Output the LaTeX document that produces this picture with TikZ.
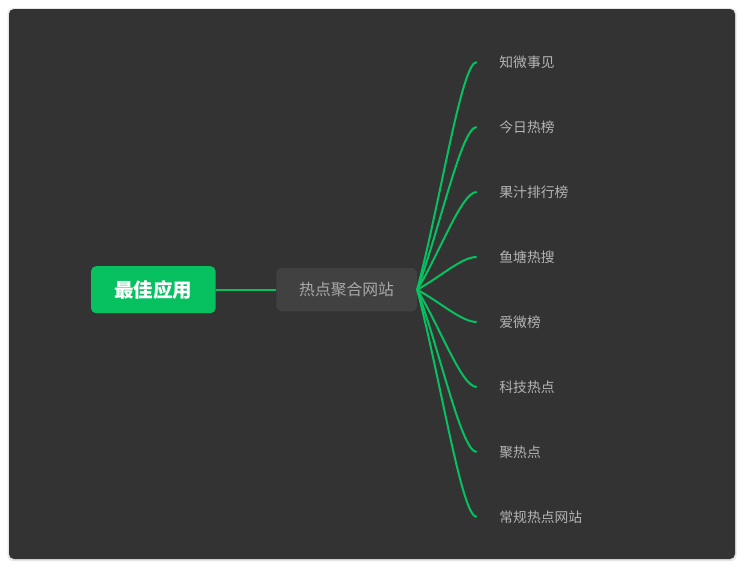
\documentclass[tikz,border=0pt]{standalone}
\usepackage{fontspec}
\setmainfont{Noto Sans CJK SC}
\usetikzlibrary{positioning,calc}
\definecolor{wxgreen}{HTML}{07C160}
\definecolor{canvasbg}{HTML}{333333}
\definecolor{hubfill}{HTML}{414141}
\definecolor{hubtext}{HTML}{A8A8A8}
\definecolor{leaftext}{HTML}{B4B4B4}

\begin{document}
\begin{tikzpicture}[
    x=1pt, y=-1pt,
    node distance=60.3pt,
    rootbox/.style={fill=wxgreen,rounded corners=5pt,text=white,inner sep=0pt,
      minimum width=124.5pt,minimum height=47pt,font=\bfseries\fontsize{19.5}{22}\selectfont},
    hubbox/.style={fill=hubfill,rounded corners=6pt,text=hubtext,inner sep=0pt,
      minimum width=140.7pt,minimum height=43.5pt,font=\fontsize{15.8}{18}\selectfont},
    leaf/.style={anchor=west,inner xsep=22.5pt,inner ysep=0pt,text=leaftext,
      font=\fontsize{13.8}{16}\selectfont},
    branch/.style={draw=wxgreen,line width=2pt}
  ]
    \fill[white] (0,0) rectangle (744,568);
    \fill[black!10,rounded corners=6pt] (7.5,8) rectangle (736.5,561);
    \fill[canvasbg,rounded corners=5pt] (9,9) rectangle (735,559);

    \node[rootbox] (root) at (153.3,289.7) {最佳应用};
    \node[hubbox,right=of root] (hub) {热点聚合网站};
    \node[leaf] (zhiwei) at (476.7,62) {知微事见};
    \node[leaf] (jinri) at (476.7,127) {今日热榜};
    \node[leaf] (guozhi) at (476.7,192) {果汁排行榜};
    \node[leaf] (yutang) at (476.7,257) {鱼塘热搜};
    \node[leaf] (aiwei) at (476.7,322) {爱微榜};
    \node[leaf] (keji) at (476.7,387) {科技热点};
    \node[leaf] (juredian) at (476.7,452) {聚热点};
    \node[leaf] (changgui) at (476.7,517) {常规热点网站};

    \draw[branch] (root) -- (hub);
    \draw[branch] (hub.east) .. controls ($(hub.east)!0.4!(zhiwei.west)$) and ($(zhiwei.west)+(-15,0)$) .. (zhiwei.west);
    \draw[branch] (hub.east) .. controls ($(hub.east)!0.4!(jinri.west)$) and ($(jinri.west)+(-15,0)$) .. (jinri.west);
    \draw[branch] (hub.east) .. controls ($(hub.east)!0.4!(guozhi.west)$) and ($(guozhi.west)+(-15,0)$) .. (guozhi.west);
    \draw[branch] (hub.east) .. controls ($(hub.east)!0.4!(yutang.west)$) and ($(yutang.west)+(-15,0)$) .. (yutang.west);
    \draw[branch] (hub.east) .. controls ($(hub.east)!0.4!(aiwei.west)$) and ($(aiwei.west)+(-15,0)$) .. (aiwei.west);
    \draw[branch] (hub.east) .. controls ($(hub.east)!0.4!(keji.west)$) and ($(keji.west)+(-15,0)$) .. (keji.west);
    \draw[branch] (hub.east) .. controls ($(hub.east)!0.4!(juredian.west)$) and ($(juredian.west)+(-15,0)$) .. (juredian.west);
    \draw[branch] (hub.east) .. controls ($(hub.east)!0.4!(changgui.west)$) and ($(changgui.west)+(-15,0)$) .. (changgui.west);
  \end{tikzpicture}
\end{document}
